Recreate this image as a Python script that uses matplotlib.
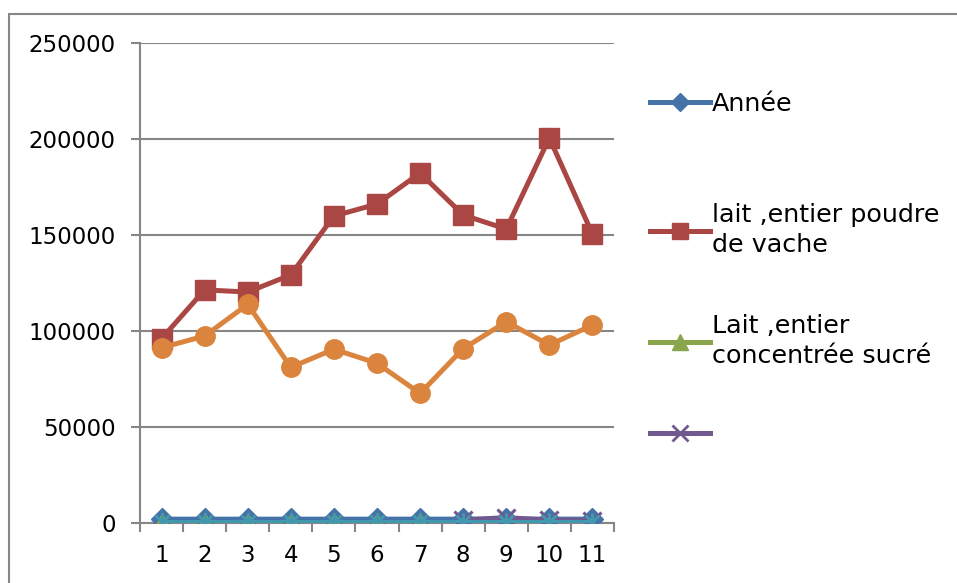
import numpy as np
import matplotlib
matplotlib.use("Agg")
import matplotlib.pyplot as plt
from matplotlib.path import Path
from matplotlib.lines import Line2D
from matplotlib.patches import Rectangle

# ---- data ----
categories = list(range(1, 12))
annee = [2000, 2001, 2002, 2003, 2004, 2005, 2006, 2007, 2008, 2009, 2010]
poudre_vache = [96000, 121400, 120300, 129200, 159900, 166100, 182300, 160400, 153100, 200500, 150500]
concentre_sucre = [200, 200, 200, 200, 200, 200, 200, np.nan, np.nan, np.nan, np.nan]
serie_4 = [np.nan, np.nan, np.nan, np.nan, np.nan, np.nan, np.nan, 1600, 2800, 1500, 1200]
serie_5 = [700, 700, 700, 700, 700, 700, 700, 700, 700, 700, 700]
serie_6 = [91300, 97400, 113900, 81100, 90500, 83200, 67500, 90800, 104800, 92700, 103100]

legend_labels = ["Année", "lait ,entier poudre\nde vache", "Lait ,entier\nconcentrée sucré", ""]
y_ticks = [0, 50000, 100000, 150000, 200000, 250000]

# ---- style ----
plt.rcParams['font.family'] = ['DejaVu Sans']
GRAY = "#868686"
C_BLUE = "#4572A7"
C_RED = "#AA4643"
C_GREEN = "#89A54E"
C_PURPLE = "#71588F"
C_CYAN = "#4198AF"
C_ORANGE = "#DB843D"

# asterisk marker: an x plus a vertical bar
star = Path([(-1, -1), (1, 1), (-1, 1), (1, -1), (0, -1.3), (0, 1.3)],
            [Path.MOVETO, Path.LINETO, Path.MOVETO, Path.LINETO, Path.MOVETO, Path.LINETO])

W, H = 957, 583
fig = plt.figure(figsize=(W / 100, H / 100), dpi=100)
ax = fig.add_axes([140 / W, (H - 523) / H, (614 - 140) / W, (523 - 43) / H])

# outer chart border
fig.patches.append(Rectangle((9 / W, -0.2), 1.2, (H - 14) / H + 0.2, transform=fig.transFigure,
                             fill=False, edgecolor=GRAY, linewidth=1.5, zorder=0))

lw = 3.6
ax.plot(categories, annee, color=C_BLUE, lw=lw, marker='D', markersize=11,
        markeredgecolor=C_BLUE, zorder=3)
ax.plot(categories, poudre_vache, color=C_RED, lw=lw, marker='s', markersize=14,
        markeredgecolor=C_RED, zorder=4)
ax.plot(categories, concentre_sucre, color=C_GREEN, lw=lw, marker='^', markersize=15,
        markeredgecolor=C_GREEN, zorder=5)
ax.plot(categories, serie_4, color=C_PURPLE, lw=lw, marker='x', markersize=13,
        markeredgewidth=2.2, markeredgecolor=C_PURPLE, zorder=6)
ax.plot(categories, serie_5, color=C_CYAN, lw=lw, marker=star, markersize=13,
        markeredgewidth=2.2, markerfacecolor='none', markeredgecolor=C_CYAN, zorder=7)
ax.plot(categories, serie_6, color=C_ORANGE, lw=lw, marker='o', markersize=14,
        markeredgecolor=C_ORANGE, zorder=8)

ax.set_xlim(0.5, 11.5)
ax.set_ylim(0, 250000)
ax.set_yticks(y_ticks)
ax.set_yticklabels([str(v) for v in y_ticks])
ax.set_xticks(categories)
ax.set_xticklabels([str(c) for c in categories])
ax.set_xticks(np.arange(0.5, 12, 1), minor=True)

ax.tick_params(axis='y', which='major', length=6.5, width=1.5, color=GRAY, pad=11,
               labelsize=16.5, labelcolor='black')
ax.tick_params(axis='x', which='major', length=0, pad=15, labelsize=16.5, labelcolor='black')
ax.tick_params(axis='x', which='minor', length=6.5, width=1.5, color=GRAY, direction='out')

ax.grid(axis='y', color=GRAY, linewidth=1.5)
ax.set_axisbelow(True)
for s in ['top', 'right']:
    ax.spines[s].set_visible(False)
for s in ['left', 'bottom']:
    ax.spines[s].set_color(GRAY)
    ax.spines[s].set_linewidth(1.5)
ax.spines['bottom'].set_zorder(2)

# legend entries placed one by one down the right side
handles = [
    Line2D([], [], color=C_BLUE, lw=lw, marker='D', markersize=9, markeredgecolor=C_BLUE),
    Line2D([], [], color=C_RED, lw=lw, marker='s', markersize=11, markeredgecolor=C_RED),
    Line2D([], [], color=C_GREEN, lw=lw, marker='^', markersize=11, markeredgecolor=C_GREEN),
    Line2D([], [], color=C_PURPLE, lw=lw, marker='x', markersize=11, markeredgewidth=2,
           markeredgecolor=C_PURPLE),
]
y_centres = [104, 230, 341, 435]
for hd, lab, yc in zip(handles, legend_labels, y_centres):
    leg = fig.legend(handles=[hd], labels=[lab], loc='center left',
                     bbox_to_anchor=(650 / W, (H - yc) / H), frameon=False,
                     fontsize=18.3, handlelength=2.35, handletextpad=0.1, borderpad=0,
                     borderaxespad=0)
    for t in leg.get_texts():
        t.set_linespacing(1.3)

fig.savefig("out.png", dpi=100, facecolor='white')
